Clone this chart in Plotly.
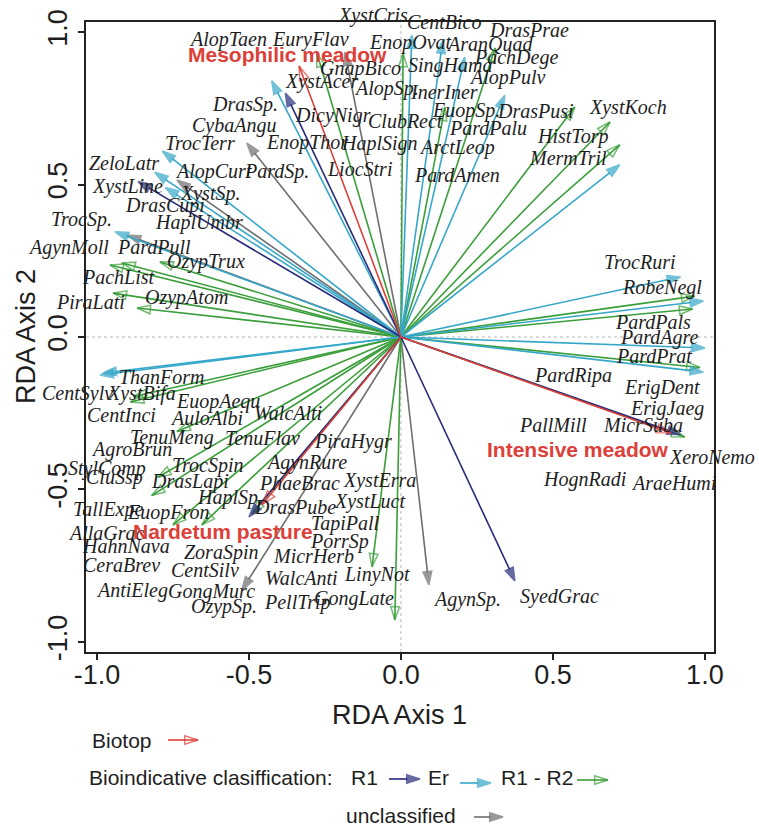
import plotly.graph_objects as go

W, H = 759, 827

# ---------------- data: arrow tips (RDA Axis 1, RDA Axis 2) ----------------
r1_x = [-0.38, -0.865, 0.92, -0.50, 0.375]
r1_y = [0.80, 0.51, -0.32, -0.59, -0.80]

er_x = [-0.425, -0.785, -0.81, -0.775, -0.94, -0.99, -0.98, 0.92, 0.995, 1.0, 0.995,
        0.72, 0.342, 0.21, 0.138, 0.036]
er_y = [0.84, 0.61, 0.54, 0.49, 0.345, -0.125, -0.118, 0.197, 0.118, -0.036, -0.115,
        0.565, 0.793, 0.918, 0.974, 0.99]

r12_x = [-0.276, 0.007, 0.145, 0.31, 0.572, 0.688, 0.72, 0.967, 0.96, 0.984, 0.934,
         -0.918, -0.957, -0.793, -0.947, -0.868, -0.89, -0.88, -0.737, -0.80, -0.82,
         -0.75, -0.655, -0.49, -0.095, -0.02]
r12_y = [0.93, 0.93, 0.754, 0.948, 0.754, 0.705, 0.63, 0.134, 0.092, -0.10, -0.328,
         0.243, 0.236, 0.246, 0.144, 0.095, -0.213, -0.195, -0.31, -0.46, -0.52,
         -0.616, -0.616, -0.58, -0.754, -0.928]

unc_x = [-0.184, -0.507, -0.737, -0.90, -0.523, 0.092]
unc_y = [0.934, 0.636, 0.515, 0.334, -0.83, -0.813]

bio_names = ["Mesophilic meadow", "Nardetum pasture", "Intensive meadow"]
bio_x = [-0.335, -0.457, 0.888]
bio_y = [0.889, -0.55, -0.315]
bio_lab_x = [-0.372, -0.586, 0.582]
bio_lab_y = [0.928, -0.639, -0.370]

# ---------------- data: species labels (label centre in axis units) ----------------
sp_names = ["XystCris", "CentBico", "DrasPrae", "AlopTaen", "EuryFlav", "EnopOvat",
            "AranQuad", "PachDege", "GnapBico", "SingHama", "XystAcer", "AlopSp.",
            "AlopPulv", "InerIner", "DrasSp.", "DicyNigr", "ClubRect", "EuopSp.",
            "DrasPusi", "XystKoch", "CybaAngu", "PardPalu", "HistTorp", "EnopThor",
            "HaplSign", "ArctLeop", "TrocTerr", "MermTril", "LiocStri", "PardAmen",
            "PardSp.", "AlopCurt", "ZeloLatr", "XystLine", "XystSp.", "DrasCupi",
            "TrocSp.", "HaplUmbr", "AgynMoll", "PardPull", "OzypTrux", "PachList",
            "OzypAtom", "PiraLati", "TrocRuri", "RobeNegl", "PardPals", "PardAgre",
            "PardPrat", "PardRipa", "ErigDent", "ErigJaeg", "PallMill", "MicrSuba",
            "XeroNemo", "HognRadi", "AraeHumi", "AgynSp.", "SyedGrac", "ThanForm",
            "CentSylv", "XystBifa", "EuopAequ", "CentInci", "AuloAlbi", "WalcAlti",
            "TenuMeng", "TenuFlav", "PiraHygr", "AgroBrun", "TrocSpin", "AgynRure",
            "StylComp", "CluSsp", "DrasLapi", "PhaeBrac", "XystErra", "HaplSp.",
            "DrasPube", "XystLuct", "TallExpe", "EuopFron", "TapiPall", "AllaGrac",
            "PorrSp", "HahnNava", "ZoraSpin", "MicrHerb", "CeraBrev", "CentSilv",
            "LinyNot", "WalcAnti", "AntiEleg", "GongMurc", "GongLate", "PellTrip",
            "OzypSp."]
sp_x = [-0.092, 0.141, 0.421, -0.569, -0.296, 0.030,
        0.293, 0.378, -0.132, 0.161, -0.260, -0.046,
        0.352, 0.141, -0.513, -0.224, 0.016, 0.214,
        0.444, 0.747, -0.549, 0.286, 0.563, -0.309,
        -0.069, 0.184, -0.661, 0.549, -0.135, 0.184,
        -0.408, -0.615, -0.911, -0.898, -0.628, -0.776,
        -1.053, -0.664, -1.079, -0.813, -0.641, -0.928,
        -0.704, -1.020, 0.786, 0.859, 0.829, 0.852,
        0.832, 0.566, 0.859, 0.875, 0.500, 0.796,
        1.023, 0.605, 0.898, 0.217, 0.523, -0.786,
        -1.063, -0.855, -0.602, -0.918, -0.641, -0.372,
        -0.753, -0.457, -0.158, -0.885, -0.635, -0.309,
        -0.967, -0.941, -0.694, -0.332, -0.069, -0.563,
        -0.349, -0.102, -0.964, -0.766, -0.181, -0.967,
        -0.201, -0.905, -0.592, -0.286, -0.918, -0.645,
        -0.079, -0.326, -0.885, -0.622, -0.155, -0.339,
        -0.582]
sp_y = [1.052, 1.033, 1.007, 0.977, 0.977, 0.967,
        0.961, 0.918, 0.882, 0.889, 0.839, 0.816,
        0.852, 0.803, 0.764, 0.725, 0.708, 0.744,
        0.741, 0.751, 0.695, 0.685, 0.656, 0.639,
        0.633, 0.623, 0.636, 0.587, 0.551, 0.531,
        0.544, 0.544, 0.570, 0.495, 0.472, 0.430,
        0.384, 0.374, 0.295, 0.295, 0.246, 0.197,
        0.131, 0.115, 0.246, 0.161, 0.049, -0.003,
        -0.062, -0.125, -0.164, -0.233, -0.289, -0.289,
        -0.393, -0.466, -0.479, -0.862, -0.852, -0.131,
        -0.184, -0.184, -0.213, -0.256, -0.266, -0.249,
        -0.331, -0.331, -0.344, -0.370, -0.420, -0.413,
        -0.430, -0.462, -0.475, -0.479, -0.469, -0.525,
        -0.557, -0.541, -0.567, -0.574, -0.610, -0.643,
        -0.672, -0.685, -0.708, -0.718, -0.748, -0.764,
        -0.780, -0.790, -0.830, -0.836, -0.856, -0.872,
        -0.885]

# ---------------- styles ----------------
C_R1 = "#262a7c"
C_ER = "#36a7c8"
C_R12 = "#3a9e3a"
C_UNC = "#6e6e6e"
C_BIO = "#dc4038"
TXT = "#1e1e1e"
SANS = "Liberation Sans, Arial, sans-serif"
SERIF = "Liberation Serif, Times New Roman, serif"

X_RANGE = [-1.036, 1.030]
Y_RANGE = [-1.033, 1.033]
X_UNIT_PX = 628 / (X_RANGE[1] - X_RANGE[0])
Y_UNIT_PX = 630 / (Y_RANGE[1] - Y_RANGE[0])

fig = go.Figure()


def add_arrows(x0s, y0s, x1s, y1s, color, symbol, xa="x", ya="y", size=13):
    for x0, y0, x1, y1 in zip(x0s, y0s, x1s, y1s):
        fig.add_trace(go.Scatter(
            x=[x0, x1], y=[y0, y1], xaxis=xa, yaxis=ya,
            mode="lines+markers",
            line=dict(color=color, width=1.6),
            marker=dict(symbol=symbol, size=[0, size], angleref="previous",
                        color=color, line=dict(color=color, width=1.5)),
            showlegend=False, hoverinfo="skip", cliponaxis=False))


def from_origin(xs, ys, color, symbol, size):
    add_arrows([0] * len(xs), [0] * len(ys), xs, ys, color, symbol, size=size)


# reference lines through origin
fig.add_shape(type="line", xref="x", yref="y domain", x0=0, x1=0, y0=0, y1=1,
              line=dict(color="#b8b8b8", width=1, dash="dot"), layer="below")
fig.add_shape(type="line", xref="x domain", yref="y", x0=0, x1=1, y0=0, y1=0,
              line=dict(color="#b8b8b8", width=1, dash="dot"), layer="below")

from_origin(unc_x, unc_y, C_UNC, "arrow", 14)
from_origin(r12_x, r12_y, C_R12, "arrow-open", 14)
from_origin(er_x, er_y, C_ER, "arrow", 14)
from_origin(r1_x, r1_y, C_R1, "arrow", 14)
from_origin(bio_x, bio_y, C_BIO, "arrow-open", 15)


def text_halfwidth_units(name, size=20):
    # rough width of an italic serif word, used only to keep labels that sit
    # past the frame anchored inside the axis range (plotly hides them otherwise)
    return len(name) * 0.47 * size / 2 / X_UNIT_PX


# species labels
for n, x, y in zip(sp_names, sp_x, sp_y):
    xanchor, yanchor = "center", "middle"
    if x < X_RANGE[0]:
        x = x + text_halfwidth_units(n)
        xanchor = "right"
    elif x > X_RANGE[1]:
        x = x - text_halfwidth_units(n)
        xanchor = "left"
    if y > Y_RANGE[1]:
        y = y - 13 / Y_UNIT_PX
        yanchor = "bottom"
    fig.add_annotation(x=x, y=y, xref="x", yref="y", text=f"<i>{n}</i>",
                       showarrow=False, xanchor=xanchor, yanchor=yanchor,
                       font=dict(family=SERIF, size=20, color=TXT))

# biotop labels
for n, x, y in zip(bio_names, bio_lab_x, bio_lab_y):
    fig.add_annotation(x=x, y=y, xref="x", yref="y", text=f"<b>{n}</b>",
                       showarrow=False, xanchor="center", yanchor="middle",
                       font=dict(family=SANS, size=21, color=C_BIO))


def px(x):
    return x / W


def py(y):
    return 1 - y / H


# axis titles
fig.add_annotation(x=px(399), y=py(715), xref="paper", yref="paper", text="RDA Axis 1",
                   showarrow=False, xanchor="center", yanchor="middle",
                   font=dict(family=SANS, size=27, color=TXT))
fig.add_annotation(x=px(26), y=py(337), xref="paper", yref="paper", text="RDA Axis 2",
                   showarrow=False, textangle=-90, xanchor="center", yanchor="middle",
                   font=dict(family=SANS, size=27, color=TXT))

# custom legend (positions in page pixels)
leg_text = [("Biotop", 122, 740), ("Bioindicative clasiffication:", 211, 777),
            ("R1", 364, 777), ("Er", 439, 777), ("R1 - R2", 537, 777),
            ("unclassified", 401, 815)]
for t, x, y in leg_text:
    fig.add_annotation(x=px(x), y=py(y), xref="paper", yref="paper", text=t,
                       showarrow=False, xanchor="center", yanchor="middle",
                       font=dict(family=SANS, size=21, color=TXT))

LEG_TOP = 677
leg_keys = [((168, 740), (198, 740), C_BIO, "arrow-open"),
            ((389, 779), (420, 779), C_R1, "arrow"),
            ((460, 783), (491, 783), C_ER, "arrow"),
            ((577, 780), (608, 780), C_R12, "arrow-open"),
            ((474, 817), (503, 817), C_UNC, "arrow")]
for a, b, c, s in leg_keys:
    add_arrows([a[0]], [a[1]], [b[0]], [b[1]], c, s, xa="x2", ya="y2", size=14)

fig.update_layout(
    width=W, height=H,
    margin=dict(l=0, r=0, t=0, b=0, autoexpand=False),
    paper_bgcolor="white", plot_bgcolor="rgba(0,0,0,0)",
    showlegend=False,
    xaxis=dict(domain=[86 / W, 714 / W], range=X_RANGE,
               showgrid=False, zeroline=False, showline=True, mirror=True,
               linecolor="#222", linewidth=1.5, ticks="outside", ticklen=6,
               tickwidth=1.5, tickcolor="#222",
               tickvals=[-1, -0.5, 0, 0.5, 1],
               ticktext=["-1.0", "-0.5", "0.0", "0.5", "1.0"],
               ticklabelstandoff=-8,
               tickfont=dict(family=SANS, size=27, color=TXT), automargin=False),
    yaxis=dict(domain=[1 - 652 / H, 1 - 22 / H], range=Y_RANGE,
               showgrid=False, zeroline=False, showline=True, mirror=True,
               linecolor="#222", linewidth=1.5, ticks="outside", ticklen=6,
               tickwidth=1.5, tickcolor="#222",
               tickvals=[-1, -0.5, 0, 0.5, 1],
               ticktext=["-1.0", "-0.5", "0.0", "0.5", "1.0"], tickangle=-90,
               tickfont=dict(family=SANS, size=27, color=TXT), automargin=False),
    xaxis2=dict(domain=[0, 1], range=[0, W], visible=False, anchor="y2"),
    yaxis2=dict(domain=[0, (H - LEG_TOP) / H], range=[H, LEG_TOP], visible=False,
                anchor="x2"),
)

fig.write_html("out.html")
